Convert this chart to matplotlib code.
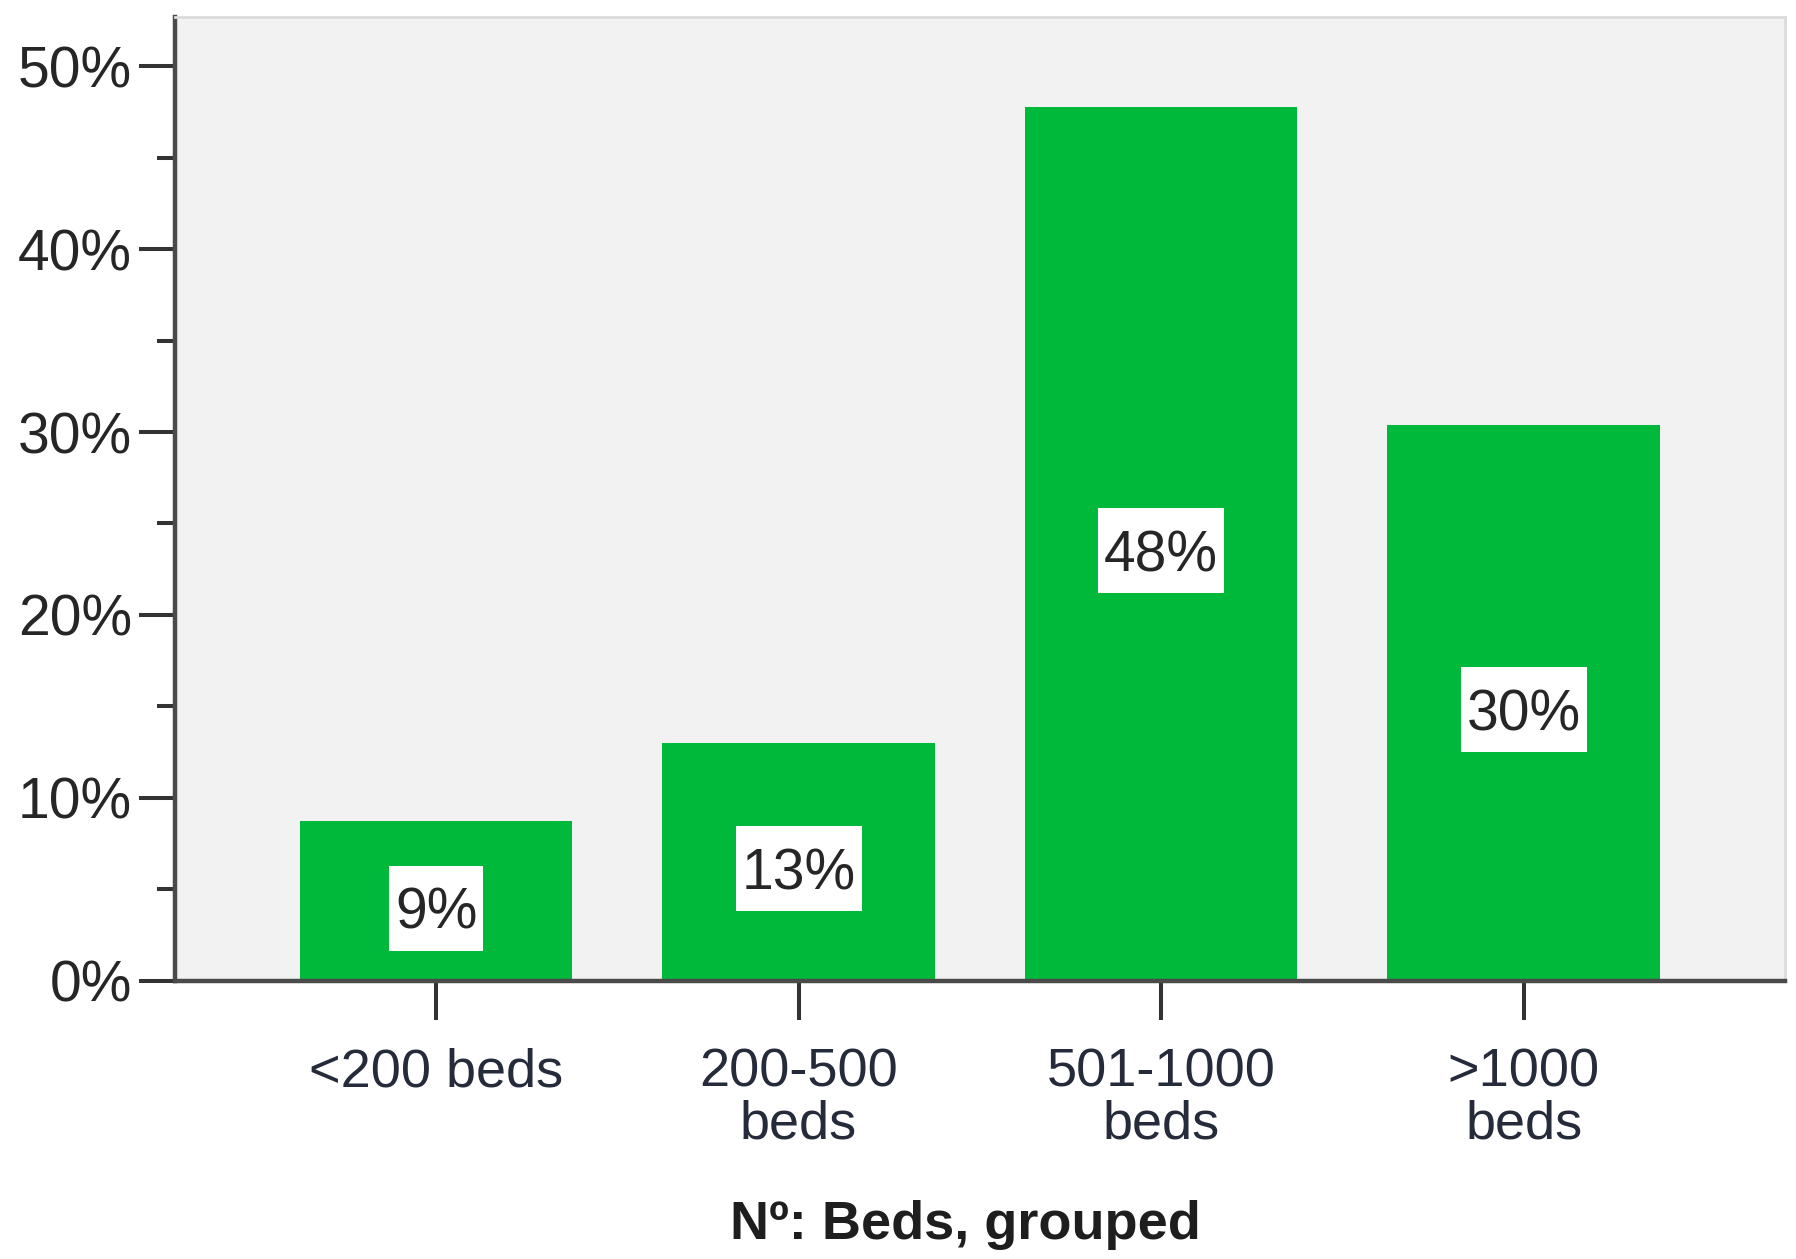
"""
Bar chart: hospitals by number of beds, grouped
"""
import matplotlib
matplotlib.use('Agg')
import matplotlib.pyplot as plt
from matplotlib.patches import Rectangle
from matplotlib.ticker import MultipleLocator, FuncFormatter

# ###
# data
# ###
CATEGORIES  = ['<200 beds', '200-500\nbeds', '501-1000\nbeds', '>1000\nbeds']
PERCENTAGES = [8.7, 13.0, 47.8, 30.4]
BAR_LABELS  = ['9%', '13%', '48%', '30%']

# ###
# figure variables
# ###
BAR_COLOR   = '#00b83a'
FACE_COLOR  = '#f2f2f2'
AXIS_COLOR  = '#4a4a4a'
TEXT_COLOR  = '#262626'
XTEXT_COLOR = '#252b3b'
LABEL_SIZE  = 41
BOX_PAD_X   = 6     # px
BOX_HEIGHT  = 85    # px
PLOT_DPI    = 100

plt.rcParams['font.family'] = ['Liberation Sans', 'DejaVu Sans']

fig = plt.figure(figsize=(17.96, 12.59), dpi=PLOT_DPI, facecolor='w')
axes = fig.add_axes([0.0975, 0.2212, 0.8962, 0.7652])
axes.set_facecolor(FACE_COLOR)

x_pos = list(range(len(CATEGORIES)))
bars = axes.bar(x_pos, PERCENTAGES, width=0.752, color=BAR_COLOR, zorder=2)

# axis settings
axes.set_xlim(-0.72, 3.72)
axes.set_ylim(0, 52.7)
axes.yaxis.set_major_locator(MultipleLocator(10))
axes.yaxis.set_minor_locator(MultipleLocator(5))
axes.yaxis.set_major_formatter(FuncFormatter(lambda v, p: '{0:d}%'.format(int(round(v)))))
axes.set_xticks(x_pos)
axes.set_xticklabels(CATEGORIES, linespacing=1.06)

for side in ['left', 'bottom']:
    axes.spines[side].set_color(AXIS_COLOR)
    axes.spines[side].set_linewidth(3.2)
for side in ['top', 'right']:
    axes.spines[side].set_color('#dcdcdc')
    axes.spines[side].set_linewidth(2)

axes.tick_params(axis='y', which='major', length=26, width=2.9, color='#333333',
                 labelsize=41, labelcolor=TEXT_COLOR, pad=5)
axes.tick_params(axis='y', which='minor', length=13, width=2.9, color='#333333')
axes.tick_params(axis='x', which='major', length=28, width=2.9, color='#333333',
                 labelsize=39, labelcolor=XTEXT_COLOR, pad=20)

axes.set_xlabel('Nº: Beds, grouped', fontsize=39, fontweight='bold', color='#1e1e1e',
                labelpad=36, x=0.491)

# value labels in white boxes
cap_offset = -0.358 * LABEL_SIZE
label_texts = []
for rect, text in zip(bars, BAR_LABELS):
    cx = rect.get_x() + rect.get_width() / 2
    cy = rect.get_height() / 2 - 0.4
    t = axes.annotate(text, xy=(cx, cy), xytext=(0, cap_offset), textcoords='offset points',
                      ha='center', va='baseline', fontsize=LABEL_SIZE, color=TEXT_COLOR, zorder=4)
    label_texts.append((t, cx, cy))

fig.canvas.draw()
renderer = fig.canvas.get_renderer()
inv = axes.transData.inverted()
for t, cx, cy in label_texts:
    ext = t.get_window_extent(renderer)
    px, py = axes.transData.transform((cx, cy))
    w = ext.width + 2 * BOX_PAD_X
    x0, y0 = inv.transform((px - w / 2, py - BOX_HEIGHT / 2))
    x1, y1 = inv.transform((px + w / 2, py + BOX_HEIGHT / 2))
    axes.add_patch(Rectangle((x0, y0), x1 - x0, y1 - y0, facecolor='white',
                             edgecolor='none', zorder=3))

plt.savefig('out.png', dpi=PLOT_DPI, facecolor='w')
plt.close(fig)
